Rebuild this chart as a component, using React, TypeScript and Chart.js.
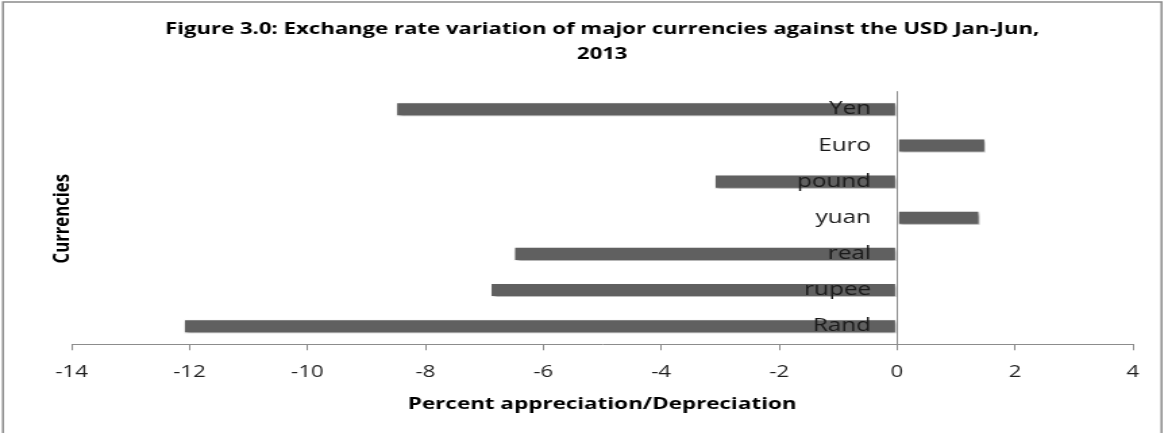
import React, { useEffect, useRef } from 'react';
import { Chart, registerables } from 'chart.js';

Chart.register(...registerables);

// ---- data ----
const currencies = ['Yen', 'Euro', 'pound', 'yuan', 'real', 'rupee', 'Rand'];
const changes = [-8.5, 1.5, -3.1, 1.4, -6.5, -6.9, -12.1];
const titleLines = [
  'Figure 3.0: Exchange rate variation of major currencies against the USD Jan-Jun,',
  '2013',
];
const xAxisTitle = 'Percent appreciation/Depreciation';
const yAxisTitle = 'Currencies';
const xMin = -14;
const xMax = 4;
const xStep = 2;
const baseline = 0;

// ---- layout ----
const W = 1168;
const H = 433;
const STRETCH = 1.35; // the reference image is stretched horizontally
const CW = Math.round(W / STRETCH);
const FONT = "'Open Sans', sans-serif";
const LABEL_GAP_UNITS = 0.44; // gap between category labels and the zero line, in axis units
const AXIS_GREY = '#8c8c8c';

const framePlugin = {
  id: 'frame',
  beforeDraw(chart: any) {
    const ctx = chart.ctx;
    ctx.save();
    ctx.fillStyle = '#ffffff';
    ctx.fillRect(0, 0, chart.width, chart.height);
    ctx.strokeStyle = '#8a8a8a';
    ctx.lineWidth = 1.5;
    ctx.strokeRect(2.2, 2, chart.width - 7, chart.height + 50);
    ctx.restore();
  },
  afterDraw(chart: any) {
    const ctx = chart.ctx;
    const area = chart.chartArea;
    ctx.save();
    ctx.translate(46, (area.top + area.bottom) / 2 + 1);
    ctx.rotate(-Math.PI / 2);
    ctx.font = `bold 16.7px ${FONT}`;
    ctx.fillStyle = '#000000';
    ctx.textAlign = 'center';
    ctx.textBaseline = 'middle';
    ctx.fillText(yAxisTitle, 0, 0);
    ctx.restore();
  },
};

const shadowPlugin = {
  id: 'barShadow',
  beforeDatasetsDraw(chart: any) {
    const ctx = chart.ctx;
    ctx.save();
    ctx.shadowColor = 'rgba(0,0,0,0.4)';
    ctx.shadowOffsetX = 1.5;
    ctx.shadowOffsetY = 2;
    ctx.shadowBlur = 3;
  },
  afterDatasetsDraw(chart: any) {
    chart.ctx.restore();
  },
};

export default function App() {
  const ref = useRef<HTMLCanvasElement | null>(null);

  useEffect(() => {
    if (!ref.current) return;
    const chart = new Chart(ref.current, {
      type: 'bar',
      data: {
        labels: currencies,
        datasets: [
          {
            data: changes,
            backgroundColor: '#606060',
            borderColor: '#ffffff',
            borderWidth: 1,
            borderSkipped: false,
            barPercentage: 0.39,
            categoryPercentage: 1,
          },
        ],
      },
      options: {
        indexAxis: 'y',
        responsive: false,
        devicePixelRatio: 1,
        animation: false,
        layout: { padding: { left: 53, right: 26, top: 0, bottom: 15 } },
        plugins: {
          legend: { display: false },
          tooltip: { enabled: false },
          title: {
            display: true,
            text: titleLines,
            color: '#000000',
            font: { family: FONT, size: 16.4, weight: 'bold', lineHeight: 1.5 },
            padding: { top: 17.5, bottom: 24.5 },
          },
        },
        scales: {
          x: {
            type: 'linear',
            min: xMin,
            max: xMax,
            ticks: {
              stepSize: xStep,
              color: '#1f1f1f',
              font: { family: FONT, size: 16.5, lineHeight: 1.2 },
              padding: 12,
              maxRotation: 0,
            },
            grid: {
              display: true,
              drawOnChartArea: true,
              drawTicks: true,
              tickLength: 6,
              color: (c: any) => (c.tick && c.tick.value === baseline ? AXIS_GREY : 'rgba(0,0,0,0)'),
              tickColor: AXIS_GREY,
            },
            border: { display: true, color: AXIS_GREY, width: 1 },
            title: {
              display: true,
              text: xAxisTitle,
              color: '#000000',
              font: { family: FONT, size: 16.6, weight: 'bold', lineHeight: 1.2 },
              padding: { top: 0, bottom: 4 },
            },
          },
          y: {
            type: 'category',
            position: { x: baseline - LABEL_GAP_UNITS },
            offset: true,
            ticks: {
              z: 1,
              color: '#1a1a1a',
              font: { family: FONT, size: 18 },
              padding: 0,
            },
            grid: { display: false, drawTicks: false },
            border: { display: false },
          },
        },
      },
      plugins: [framePlugin, shadowPlugin],
    } as any);
    return () => chart.destroy();
  }, []);

  return (
    <div style={{ position: 'fixed', left: 0, top: 0, width: W, height: H, background: '#fff' }}>
      <canvas
        ref={ref}
        width={CW}
        height={H}
        style={{ width: `${W}px`, height: `${H}px`, display: 'block' }}
      />
    </div>
  );
}
